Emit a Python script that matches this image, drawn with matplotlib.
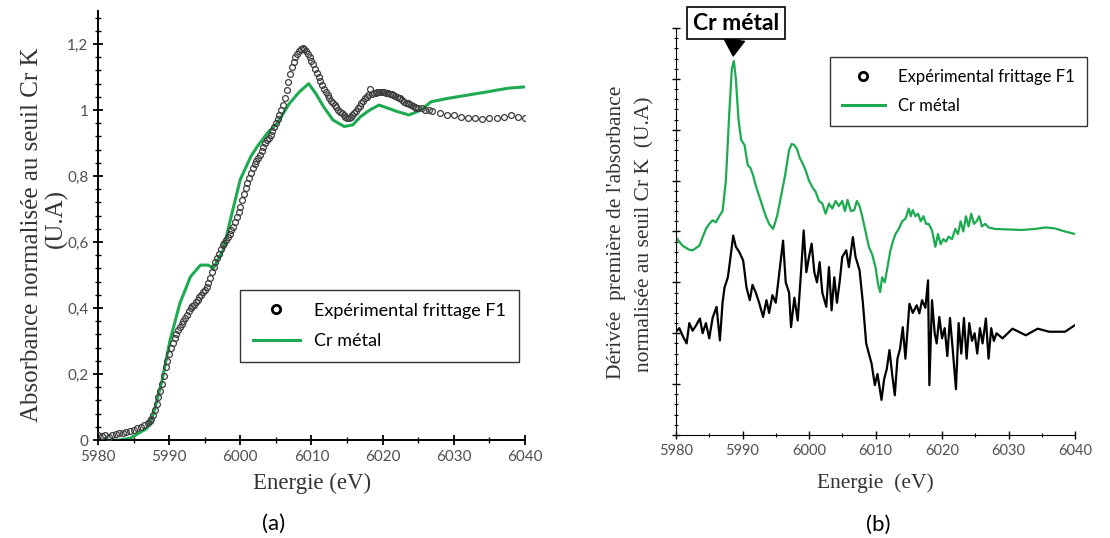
import matplotlib
matplotlib.use("Agg")
import matplotlib.pyplot as plt
from matplotlib.lines import Line2D
from matplotlib.ticker import MultipleLocator, FuncFormatter

# ---- (a) absorbance, seuil Cr K ----
exp_a_x = [5980.0, 5980.5, 5981.0, 5981.5, 5982.0, 5982.5, 5983.0, 5983.5, 5984.0, 5984.5,
           5985.0, 5985.5, 5986.0, 5986.5,
           5987.0, 5987.25, 5987.5, 5987.75, 5988.0, 5988.25, 5988.5, 5988.75, 5989.0, 5989.25,
           5989.5, 5989.75, 5990.0, 5990.25, 5990.5, 5990.75, 5991.0, 5991.25, 5991.5, 5991.75,
           5992.0, 5992.25, 5992.5, 5992.75, 5993.0, 5993.25, 5993.5, 5993.75, 5994.0, 5994.25,
           5994.5, 5994.75, 5995.0, 5995.25, 5995.5, 5995.75, 5996.0, 5996.25, 5996.5, 5996.75,
           5997.0, 5997.25, 5997.5, 5997.75, 5998.0, 5998.25, 5998.5, 5998.75, 5999.0, 5999.25,
           5999.5, 5999.75, 6000.0, 6000.25, 6000.5, 6000.75, 6001.0, 6001.25, 6001.5, 6001.75,
           6002.0, 6002.25, 6002.5, 6002.75, 6003.0, 6003.25, 6003.5, 6003.75, 6004.0, 6004.25,
           6004.5, 6004.75, 6005.0, 6005.25, 6005.5, 6005.75, 6006.0, 6006.25, 6006.5, 6006.75,
           6007.0, 6007.25, 6007.5, 6007.75, 6008.0, 6008.25, 6008.5, 6008.75, 6009.0, 6009.25,
           6009.5, 6009.75, 6010.0, 6010.25, 6010.5, 6010.75, 6011.0, 6011.25, 6011.5, 6011.75,
           6012.0, 6012.25, 6012.5, 6012.75, 6013.0, 6013.25, 6013.5, 6013.75, 6014.0, 6014.25,
           6014.5, 6014.75, 6015.0, 6015.25, 6015.5, 6015.75, 6016.0, 6016.25, 6016.5, 6016.75,
           6017.0, 6017.25, 6017.5, 6017.75, 6018.0, 6018.25, 6018.5, 6018.75, 6019.0, 6019.25,
           6019.5, 6019.75, 6020.0, 6020.25, 6020.5, 6020.75, 6021.0, 6021.25, 6021.5, 6021.75,
           6022.0, 6022.25, 6022.5, 6022.75, 6023.0, 6023.25, 6023.5, 6023.75, 6024.0, 6024.25,
           6024.5, 6024.75, 6025.0, 6025.5, 6026.0, 6026.5, 6027.0,
           6028.0, 6029.0, 6030.0, 6031.0, 6032.0, 6033.0, 6034.0, 6035.0, 6036.0, 6037.0,
           6038.0, 6039.0, 6040.0]
exp_a_y = [0.015, 0.012, 0.015, 0.010, 0.015, 0.018, 0.020, 0.022, 0.025, 0.028,
           0.030, 0.035, 0.040, 0.045,
           0.052, 0.058, 0.065, 0.075, 0.090, 0.110, 0.130, 0.150, 0.170, 0.195,
           0.220, 0.240, 0.260, 0.280, 0.295, 0.310, 0.320, 0.333, 0.343, 0.352,
           0.360, 0.370, 0.380, 0.390, 0.400, 0.405, 0.410, 0.418, 0.425, 0.432,
           0.440, 0.447, 0.455, 0.465, 0.475, 0.490, 0.510, 0.525, 0.540, 0.553,
           0.565, 0.578, 0.590, 0.598, 0.605, 0.615, 0.625, 0.635, 0.645, 0.660,
           0.675, 0.690, 0.707, 0.726, 0.745, 0.763, 0.780, 0.795, 0.810, 0.823,
           0.835, 0.845, 0.855, 0.865, 0.875, 0.888, 0.900, 0.908, 0.915, 0.925,
           0.935, 0.948, 0.960, 0.972, 0.985, 1.000, 1.015, 1.037, 1.060, 1.085,
           1.110, 1.130, 1.145, 1.160, 1.170, 1.178, 1.185, 1.188, 1.185, 1.178,
           1.170, 1.160, 1.150, 1.138, 1.125, 1.112, 1.100, 1.088, 1.075, 1.065,
           1.055, 1.045, 1.035, 1.027, 1.020, 1.015, 1.010, 1.000, 0.995, 0.990,
           0.985, 0.980, 0.975, 0.977, 0.980, 0.985, 0.990, 0.997, 1.005, 1.012,
           1.020, 1.028, 1.035, 1.040, 1.045, 1.065, 1.050, 1.051, 1.052, 1.054,
           1.055, 1.055, 1.055, 1.054, 1.053, 1.052, 1.050, 1.048, 1.045, 1.042,
           1.040, 1.037, 1.035, 1.030, 1.025, 1.022, 1.020, 1.017, 1.015, 1.012,
           1.010, 1.007, 1.005, 1.005, 1.000, 1.000, 0.998,
           0.990, 0.985, 0.985, 0.980, 0.975, 0.975, 0.972, 0.975, 0.975, 0.978,
           0.985, 0.978, 0.975]

cr_a_x = [5980.0, 5983.0, 5984.5, 5986.9, 5987.8, 5989.0, 5990.1, 5991.5, 5993.0, 5994.4,
          5995.5, 5996.2, 5997.6, 5998.6, 6000.0, 6001.5, 6002.4, 6003.8, 6005.2, 6006.9,
          6008.3, 6009.6, 6010.6, 6011.7, 6013.0, 6014.6, 6015.8, 6016.9, 6018.2, 6019.5,
          6020.8, 6022.1, 6023.7, 6025.4, 6026.8, 6029.1, 6031.9, 6034.7, 6037.6, 6040.0]
cr_a_y = [0.0, 0.0, 0.005, 0.036, 0.08, 0.18, 0.30, 0.414, 0.495, 0.53,
          0.53, 0.52, 0.576, 0.667, 0.79, 0.86, 0.89, 0.93, 0.96, 1.02,
          1.055, 1.08, 1.05, 1.01, 0.97, 0.95, 0.955, 0.98, 1.0, 1.015,
          1.005, 0.995, 0.985, 1.0, 1.025, 1.035, 1.045, 1.055, 1.066, 1.07]

# ---- (b) derivee premiere ----
cr_b_x = [5980.0, 5981.0, 5982.0, 5982.5, 5983.5, 5984.5, 5985.0, 5985.5, 5986.0, 5986.5,
          5987.0, 5987.5, 5988.0, 5988.4, 5988.7, 5989.0, 5989.4, 5989.8, 5990.3, 5990.8,
          5991.2, 5991.6, 5992.0, 5992.5, 5993.0, 5993.5, 5994.0, 5994.6, 5995.2, 5995.8,
          5996.4, 5997.0, 5997.4, 5997.8, 5998.2, 5998.6, 5999.0, 5999.5, 6000.0, 6000.6,
          6001.0, 6001.5, 6002.0, 6002.5, 6003.0, 6003.5, 6004.0, 6004.5, 6005.0, 6005.4,
          6005.8, 6006.3, 6006.8, 6007.2, 6007.6, 6008.0, 6008.5, 6009.0, 6009.5, 6010.0,
          6010.4, 6010.7, 6011.0, 6011.4, 6011.8, 6012.2, 6012.6, 6013.0, 6013.5, 6014.0,
          6014.5, 6015.0, 6015.3, 6015.6, 6016.0, 6016.4, 6016.8, 6017.2, 6017.6, 6018.0,
          6018.5, 6019.0, 6019.4, 6019.8, 6020.2, 6020.6, 6021.0, 6021.5, 6022.0, 6022.4,
          6022.8, 6023.2, 6023.6, 6024.0, 6024.4, 6024.8, 6025.2, 6025.6, 6026.0, 6026.5,
          6027.0, 6028.0, 6030.0, 6032.0, 6034.0, 6035.6, 6037.0, 6038.5, 6040.0]
cr_b_y = [3.88, 3.72, 3.64, 3.63, 3.72, 4.05, 4.15, 4.22, 4.18, 4.30,
          4.40, 5.00, 6.30, 7.20, 7.35, 7.00, 6.20, 5.80, 5.70, 5.30,
          5.25, 5.10, 4.90, 4.70, 4.50, 4.30, 4.15, 4.05, 4.30, 4.70,
          5.10, 5.60, 5.72, 5.70, 5.62, 5.45, 5.35, 5.20, 5.00, 4.85,
          4.78, 4.60, 4.55, 4.35, 4.55, 4.45, 4.60, 4.50, 4.60, 4.40,
          4.62, 4.40, 4.42, 4.60, 4.50, 4.30, 4.00, 3.70, 3.55, 3.30,
          2.95, 2.81, 3.10, 3.00, 3.30, 3.60, 3.80, 3.95, 4.05, 4.20,
          4.25, 4.45, 4.30, 4.42, 4.30, 4.35, 4.20, 4.30, 4.15, 4.15,
          4.02, 3.70, 3.95, 3.75, 3.85, 3.80, 3.90, 3.85, 4.05, 3.95,
          4.20, 4.00, 4.30, 4.10, 4.35, 4.15, 4.20, 4.30, 4.10, 4.15,
          4.08, 4.05, 4.04, 4.03, 4.05, 4.08, 4.06, 4.00, 3.95]

exp_b_x = [5980.0, 5980.5, 5981.0, 5981.6, 5982.0, 5982.5, 5983.0, 5983.6, 5984.0, 5984.5,
           5985.0, 5985.5, 5986.1, 5986.6, 5987.0, 5987.3, 5987.8, 5988.2, 5988.6, 5989.0,
           5989.5, 5990.1, 5990.6, 5991.1, 5991.5, 5992.0, 5992.5, 5993.1, 5993.6, 5994.0,
           5994.5, 5995.0, 5995.4, 5996.1, 5996.5, 5997.0, 5997.3, 5997.8, 5998.3, 5998.8,
           5999.2, 5999.6, 6000.0, 6000.4, 6000.8, 6001.2, 6001.6, 6002.0, 6002.6, 6003.0,
           6003.4, 6003.8, 6004.2, 6004.6, 6005.0, 6005.6, 6006.0, 6006.6, 6007.0, 6007.6,
           6008.1, 6008.6, 6009.0, 6009.4, 6009.9, 6010.3, 6010.9, 6011.3, 6011.7, 6012.1,
           6012.5, 6012.9, 6013.3, 6013.7, 6014.1, 6014.5, 6015.1, 6015.6, 6016.2, 6016.6,
           6017.0, 6017.5, 6017.9, 6018.1, 6018.5, 6018.9, 6019.2, 6019.6, 6020.0, 6020.4,
           6020.8, 6021.2, 6021.6, 6022.1, 6022.5, 6022.9, 6023.3, 6023.7, 6024.1, 6024.5,
           6024.9, 6025.3, 6025.7, 6026.1, 6026.6, 6027.0, 6027.4, 6027.8, 6028.2, 6029.1,
           6030.6, 6032.6, 6034.4, 6036.1, 6038.5, 6040.0]
exp_b_y = [2.03, 2.10, 1.95, 1.80, 2.20, 2.05, 2.15, 2.29, 2.00, 2.20,
           1.90, 2.30, 2.52, 1.86, 2.60, 2.90, 3.10, 3.50, 3.92, 3.70,
           3.60, 3.43, 2.90, 2.65, 2.95, 2.80, 2.60, 2.32, 2.65, 2.40,
           2.75, 2.60, 3.04, 3.82, 3.00, 2.80, 2.12, 2.70, 2.25, 3.20,
           4.02, 3.20, 3.50, 3.76, 3.20, 3.00, 3.40, 2.80, 2.52, 3.30,
           2.45, 3.10, 2.60, 3.00, 3.50, 3.63, 3.30, 3.89, 3.50, 3.24,
           2.60, 1.80, 1.60, 1.41, 0.98, 1.20, 0.69, 1.10, 1.30, 1.67,
           1.20, 0.78, 1.50, 1.70, 2.12, 1.50, 2.58, 2.40, 2.55, 2.39,
           2.65, 2.50, 3.04, 0.98, 2.65, 2.00, 1.80, 2.32, 1.90, 2.10,
           1.55, 2.30, 1.70, 0.90, 2.20, 1.60, 2.30, 1.50, 2.20, 1.85,
           2.00, 1.60, 2.10, 1.80, 2.29, 1.50, 2.10, 1.85, 2.00, 1.90,
           2.09, 1.96, 2.09, 2.03, 2.03, 2.16]

x_ticks = [5980, 5990, 6000, 6010, 6020, 6030, 6040]
green = "#1daa50"
tick_grey = "#505050"
sans = "Lato"
serif = "Liberation Serif"


def comma_fmt(v, pos):
    s = ("%.1f" % v).rstrip("0").rstrip(".")
    return s.replace(".", ",")


fig = plt.figure(figsize=(11.1, 5.38), dpi=100)

# panel (a)
ax1 = fig.add_axes([98 / 1110, 1 - 440 / 538, 427 / 1110, 429 / 538])
ax1.plot(cr_a_x, cr_a_y, color=green, lw=2.2, zorder=2)
ax1.plot(exp_a_x, exp_a_y, ls="none", marker="o", ms=4.2, mfc="none",
         mec="#3c3c3c", mew=0.9, zorder=3)
ax1.set_xlim(5980, 6040)
ax1.set_ylim(0, 1.3)
ax1.set_xticks(x_ticks)
ax1.xaxis.set_minor_locator(MultipleLocator(5))
ax1.yaxis.set_major_locator(MultipleLocator(0.2))
ax1.yaxis.set_minor_locator(MultipleLocator(0.04))
ax1.yaxis.set_major_formatter(FuncFormatter(comma_fmt))
for s in ["top", "right"]:
    ax1.spines[s].set_visible(False)
for s in ["left", "bottom"]:
    ax1.spines[s].set_linewidth(1.4)
ax1.tick_params(which="major", direction="inout", length=7, width=1.3,
                labelsize=11, labelcolor=tick_grey)
ax1.tick_params(which="minor", direction="inout", length=4, width=1.0)
for lab in ax1.get_xticklabels() + ax1.get_yticklabels():
    lab.set_family(sans)

fig.text(32 / 1110, 1 - 235 / 538, "Absorbance normalisée au seuil Cr K",
         rotation=90, ha="center", va="center", family=serif, fontsize=18,
         color="#333333")
fig.text(56 / 1110, 1 - 218 / 538, "(U.A)", rotation=90, ha="center",
         va="center", family=serif, fontsize=18, color="#333333")
fig.text(312 / 1110, 1 - 483 / 538, "Energie (eV)", ha="center", va="center",
         family=serif, fontsize=16.5, color="#333333")
fig.text(274 / 1110, 1 - 524 / 538, "(a)", ha="center", va="center",
         family=sans, fontsize=16)

h_exp = Line2D([], [], ls="none", marker="o", ms=6, mfc="none", mec="black", mew=2)
h_cr = Line2D([], [], color=green, lw=2.2)
leg1 = fig.legend([h_exp, h_cr], ["Expérimental frittage F1", "Cr métal"],
                  loc="upper left", bbox_to_anchor=(240 / 1110, 1 - 290 / 538),
                  frameon=True, fancybox=False, framealpha=1, edgecolor="#333333",
                  prop={"family": sans, "size": 13}, handlelength=2.6,
                  labelspacing=0.8, borderaxespad=0, borderpad=0.7)
leg1.get_frame().set_linewidth(1.0)

# panel (b)
ax2 = fig.add_axes([676 / 1110, 1 - 435 / 538, 399 / 1110, 407 / 538])
ax2.plot(cr_b_x, cr_b_y, color=green, lw=1.6)
ax2.plot(exp_b_x, exp_b_y, color="black", lw=1.6)
ax2.set_xlim(5980, 6040)
ax2.set_ylim(0, 8)
ax2.set_xticks(x_ticks)
ax2.xaxis.set_minor_locator(MultipleLocator(5))
ax2.yaxis.set_major_locator(MultipleLocator(1))
ax2.yaxis.set_minor_locator(MultipleLocator(0.2))
ax2.set_yticklabels([])
for s in ["top", "right"]:
    ax2.spines[s].set_visible(False)
ax2.tick_params(which="major", direction="inout", length=6, width=1.0,
                labelsize=10.5, labelcolor=tick_grey)
ax2.tick_params(which="minor", direction="inout", length=3.5, width=0.8)
for lab in ax2.get_xticklabels():
    lab.set_family(sans)

fig.text(616 / 1110, 1 - 232 / 538, "Dérivée  première de l'absorbance",
         rotation=90, ha="center", va="center", family=serif, fontsize=15.5,
         color="#333333")
fig.text(645 / 1110, 1 - 234 / 538, "normalisée au seuil Cr K  (U.A)",
         rotation=90, ha="center", va="center", family=serif, fontsize=15.5,
         color="#333333")
fig.text(875 / 1110, 1 - 483 / 538, "Energie  (eV)", ha="center", va="center",
         family=serif, fontsize=15.5, color="#333333")
fig.text(878 / 1110, 1 - 525 / 538, "(b)", ha="center", va="center",
         family=sans, fontsize=16)

leg2 = fig.legend([h_exp, h_cr], ["Expérimental frittage F1", "Cr métal"],
                  loc="upper left", bbox_to_anchor=(830 / 1110, 1 - 57 / 538),
                  frameon=True, fancybox=False, framealpha=1, edgecolor="#333333",
                  prop={"family": sans, "size": 12}, handlelength=2.6,
                  labelspacing=0.8, borderaxespad=0, borderpad=0.7)
leg2.get_frame().set_linewidth(1.0)

ax2.annotate("Cr métal", xy=(5988.6, 7.45), xycoords="data",
             xytext=(736, 538 - 23), textcoords="figure pixels",
             ha="center", va="center", fontsize=16.5, fontweight="bold",
             family=sans, annotation_clip=False,
             bbox=dict(boxstyle="square,pad=0.25", fc="white", ec="black", lw=1.2),
             arrowprops=dict(arrowstyle="simple,head_length=0.7,head_width=0.9,tail_width=0.45",
                             color="black", mutation_scale=16, shrinkA=0, shrinkB=0))

fig.savefig("out.png", dpi=100)
